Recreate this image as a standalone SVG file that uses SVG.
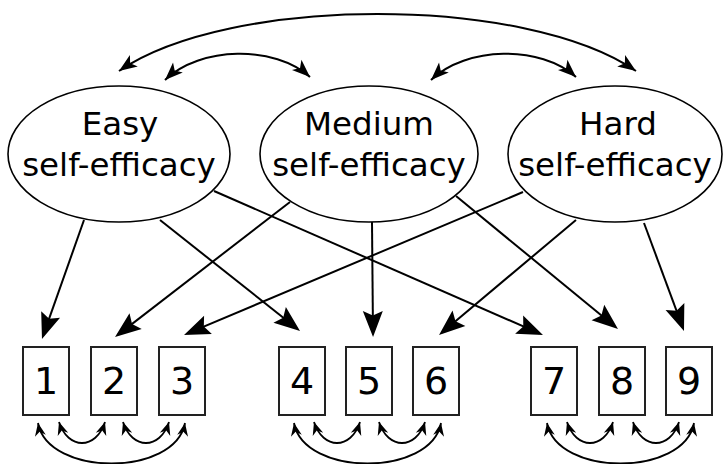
<svg xmlns="http://www.w3.org/2000/svg" width="723" height="464" viewBox="0 0 723 464">
  <style>
    .factor { fill: #fff; stroke: #000; stroke-width: 1.6; }
    .item { fill: #fff; stroke: #222; stroke-width: 2; }
    .lbl { font-family: "DejaVu Sans", Verdana, sans-serif; font-size: 32.5px; fill: #000; text-anchor: middle; }
    .num { font-family: "DejaVu Sans", Verdana, sans-serif; font-size: 38px; fill: #000; text-anchor: middle; }
    .load { fill: none; stroke: #000; stroke-width: 2; marker-end: url(#bigHead); }
    .cov { fill: none; stroke: #000; stroke-width: 2; marker-start: url(#midHead); marker-end: url(#midHead); }
    .err { fill: none; stroke: #000; stroke-width: 1.8; marker-start: url(#smallHead); marker-end: url(#smallHead); }
  </style>
  <defs>
    <marker id="bigHead" markerUnits="userSpaceOnUse" markerWidth="30" markerHeight="24" viewBox="-24 -12 30 24" refX="0" refY="0" orient="auto" overflow="visible">
      <path d="M4,0 L-22,-10 L-17.5,0 L-22,10 Z" fill="#000"/>
    </marker>
    <marker id="midHead" markerUnits="userSpaceOnUse" markerWidth="20" markerHeight="16" viewBox="-19 -8 20 16" refX="0" refY="0" orient="auto-start-reverse" overflow="visible">
      <path d="M0,0 L-18,-7 L-13.5,0 L-18,7 Z" fill="#000"/>
    </marker>
    <marker id="smallHead" markerUnits="userSpaceOnUse" markerWidth="14" markerHeight="12" viewBox="-13 -6 14 12" refX="0" refY="0" orient="auto-start-reverse" overflow="visible">
      <path d="M0,0 L-13,-5.5 L-9,0 L-13,5.5 Z" fill="#000"/>
    </marker>
  </defs>

  <!-- connectors: factor covariances, loadings, residual covariances -->
  <g id="connectors">
    <path class="cov" d="M119,71 C230,-5 525,-5 636,71"/>
    <path class="cov" d="M165,80 C200,46 275,45 310,77"/>
    <path class="cov" d="M431,80 C466,46 541,45 576,77"/>

    <line class="load" x1="84" y1="220" x2="43.3" y2="335.2"/>
    <line class="load" x1="160" y1="220" x2="296.9" y2="328.5"/>
    <line class="load" x1="214" y1="191" x2="539.3" y2="333.4"/>
    <line class="load" x1="290" y1="202" x2="118.2" y2="334.6"/>
    <line class="load" x1="372" y1="222" x2="373" y2="333"/>
    <line class="load" x1="456" y1="196" x2="614.9" y2="326.5"/>
    <line class="load" x1="523" y1="192" x2="187.7" y2="333.4"/>
    <line class="load" x1="576" y1="220" x2="442.1" y2="332.4"/>
    <line class="load" x1="644" y1="223" x2="682.6" y2="327.2"/>

    <path class="err" d="M38,423 C48,477 175,477 185,423"/>
    <path class="err" d="M59,422 C68,450 96,450 105,422"/>
    <path class="err" d="M123,422 C132,450 160,450 169,422"/>

    <path class="err" d="M294,423 C304,477 431,477 441,423"/>
    <path class="err" d="M314,422 C323,450 351,450 360,422"/>
    <path class="err" d="M379,422 C388,450 416,450 425,422"/>

    <path class="err" d="M547,423 C557,477 684,477 694,423"/>
    <path class="err" d="M567,422 C576,450 604,450 613,422"/>
    <path class="err" d="M633,422 C642,450 670,450 679,422"/>
  </g>

  <!-- latent factors -->
  <g id="easy">
    <ellipse class="factor" cx="119" cy="154" rx="111" ry="68"/>
    <text class="lbl" x="120" y="135">Easy</text>
    <text class="lbl" x="119" y="176">self-efficacy</text>
  </g>
  <g id="medium">
    <ellipse class="factor" cx="369" cy="154" rx="109" ry="68"/>
    <text class="lbl" x="369" y="135">Medium</text>
    <text class="lbl" x="369" y="176">self-efficacy</text>
  </g>
  <g id="hard">
    <ellipse class="factor" cx="615" cy="154" rx="107" ry="68"/>
    <text class="lbl" x="618" y="135">Hard</text>
    <text class="lbl" x="615" y="176">self-efficacy</text>
  </g>

  <!-- observed items -->
  <g id="item1"><rect class="item" x="23" y="347" width="46" height="68"/><text class="num" x="46" y="394">1</text></g>
  <g id="item2"><rect class="item" x="91" y="347" width="46" height="68"/><text class="num" x="114" y="394">2</text></g>
  <g id="item3"><rect class="item" x="159" y="347" width="46" height="68"/><text class="num" x="182" y="394">3</text></g>
  <g id="item4"><rect class="item" x="279" y="347" width="46" height="68"/><text class="num" x="302" y="394">4</text></g>
  <g id="item5"><rect class="item" x="346" y="347" width="46" height="68"/><text class="num" x="369" y="394">5</text></g>
  <g id="item6"><rect class="item" x="413" y="347" width="46" height="68"/><text class="num" x="436" y="394">6</text></g>
  <g id="item7"><rect class="item" x="531" y="347" width="46" height="68"/><text class="num" x="554" y="394">7</text></g>
  <g id="item8"><rect class="item" x="599" y="347" width="46" height="68"/><text class="num" x="622" y="394">8</text></g>
  <g id="item9"><rect class="item" x="666" y="347" width="46" height="68"/><text class="num" x="689" y="394">9</text></g>
</svg>
